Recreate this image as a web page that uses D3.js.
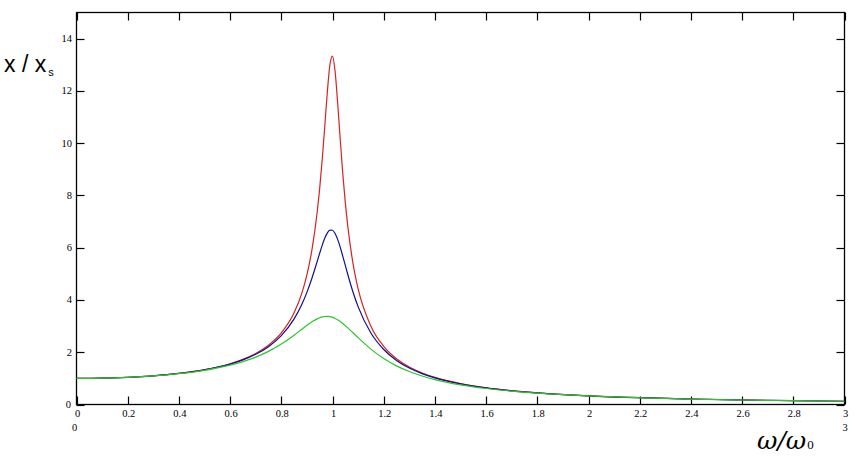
<!DOCTYPE html>
<html><head><meta charset="utf-8">
<script src="https://cdn.jsdelivr.net/npm/d3@7"></script>
<style>body{margin:0;background:#fff}svg{display:block}</style>
</head><body>
<script>
// frequency ratio omega/omega0
const omega = [0,0.1,0.2,0.3,0.4,0.5,0.6,0.65,0.7,0.75,0.8,0.85,0.88,0.9,0.92,0.94,0.95,0.96,0.97,0.98,0.99,1.0,1.01,1.02,1.03,1.04,1.05,1.06,1.08,1.1,1.15,1.2,1.25,1.3,1.35,1.4,1.5,1.6,1.7,1.8,2.0,2.2,2.4,2.6,2.8,3.0];
const redValues = [1,1.010,1.042,1.099,1.190,1.332,1.559,1.726,1.951,2.267,2.740,3.512,4.254,4.960,5.939,7.349,8.281,9.394,10.669,11.978,13.009,13.333,12.760,11.559,10.166,8.859,7.736,6.805,5.403,4.432,2.996,2.227,1.754,1.435,1.207,1.036,0.797,0.639,0.528,0.446,0.333,0.260,0.210,0.174,0.146,0.125];
const blueValues = [1,1.010,1.041,1.098,1.188,1.327,1.547,1.707,1.921,2.214,2.635,3.275,3.826,4.290,4.843,5.469,5.792,6.099,6.368,6.569,6.674,6.667,6.543,6.319,6.022,5.680,5.322,4.966,4.306,3.744,2.734,2.104,1.687,1.395,1.181,1.018,0.787,0.634,0.524,0.443,0.332,0.260,0.210,0.173,0.146,0.125];
const greenValues = [1,1.010,1.040,1.094,1.179,1.307,1.504,1.641,1.813,2.033,2.311,2.653,2.880,3.029,3.166,3.278,3.320,3.350,3.368,3.371,3.360,3.333,3.293,3.240,3.175,3.101,3.019,2.931,2.746,2.557,2.118,1.759,1.479,1.262,1.091,0.954,0.753,0.613,0.511,0.434,0.327,0.257,0.208,0.172,0.145,0.124];
const xTicks = [0,0.2,0.4,0.6,0.8,1,1.2,1.4,1.6,1.8,2,2.2,2.4,2.6,2.8,3];
const yTicks = [0,2,4,6,8,10,12,14];
const seriesColors = ["#d42222","#10108a","#2cc42c"];

const W = 864, H = 468;
const svg = d3.select("body").append("svg").attr("width", W).attr("height", H);
const x = d3.scaleLinear().domain([0,3]).range([76.5,844.5]);
const y = d3.scaleLinear().domain([0,15]).range([404.5,12.5]);

// frame
svg.append("rect").attr("x",76.5).attr("y",12.5).attr("width",768).attr("height",392)
  .attr("fill","none").attr("stroke","#000").attr("stroke-width",1.3);

const tickLen = 8;
const g = svg.append("g").attr("stroke","#000").attr("stroke-width",1.2);
xTicks.forEach(t => {
  const px = Math.round(x(t)) + 0.5;
  g.append("line").attr("x1",px).attr("x2",px).attr("y1",404.5).attr("y2",404.5-tickLen);
  g.append("line").attr("x1",px).attr("x2",px).attr("y1",12.5).attr("y2",12.5+tickLen);
});
yTicks.forEach(t => {
  const py = Math.round(y(t)) + 0.5;
  g.append("line").attr("x1",76.5).attr("x2",76.5+tickLen).attr("y1",py).attr("y2",py);
  g.append("line").attr("x1",844.5).attr("x2",844.5-tickLen).attr("y1",py).attr("y2",py);
});

const font = "'Liberation Serif','Times New Roman',serif";
svg.append("g").selectAll("text").data(xTicks).join("text")
  .attr("x", d => x(d) + 1).attr("y", 417)
  .attr("text-anchor","middle").attr("font-family",font).attr("font-size",10.5)
  .text(d => d3.format("~g")(d));
svg.append("g").selectAll("text").data(yTicks).join("text")
  .attr("x", d => d === 0 ? 71 : 72).attr("y", d => y(d) + 3.5)
  .attr("text-anchor","end").attr("font-family",font).attr("font-size",10.5)
  .text(d => d);
// domain limit labels
svg.append("text").attr("x",74.5).attr("y",431).attr("text-anchor","middle")
  .attr("font-family",font).attr("font-size",10.5).text("0");
svg.append("text").attr("x",845).attr("y",431).attr("text-anchor","middle")
  .attr("font-family",font).attr("font-size",10.5).text("3");

// curves
const line = d3.line().x((d,i) => x(omega[i])).y(d => y(d));
[redValues, blueValues, greenValues].forEach((vals, k) => {
  svg.append("path").datum(vals).attr("d", line.curve(d3.curveMonotoneX))
    .attr("fill","none").attr("stroke",seriesColors[k]).attr("stroke-width",1.2);
});

// axis titles
const yt = svg.append("text").attr("x",4).attr("y",72)
  .attr("font-family","'Liberation Sans',Arial,sans-serif").attr("font-size",23);
yt.append("tspan").text("x / x");
yt.append("tspan").attr("font-size",11).attr("dy",4).attr("dx",2).text("s");

const xt = svg.append("text").attr("x",757).attr("y",449)
  .attr("font-family","'DejaVu Serif','Liberation Serif',serif").attr("font-size",25).attr("font-style","italic");
xt.append("tspan").text("ω/ω");
xt.append("tspan").attr("font-family",font).attr("font-size",13).attr("font-style","normal").attr("dx",1).text("0");
</script>
</body></html>
